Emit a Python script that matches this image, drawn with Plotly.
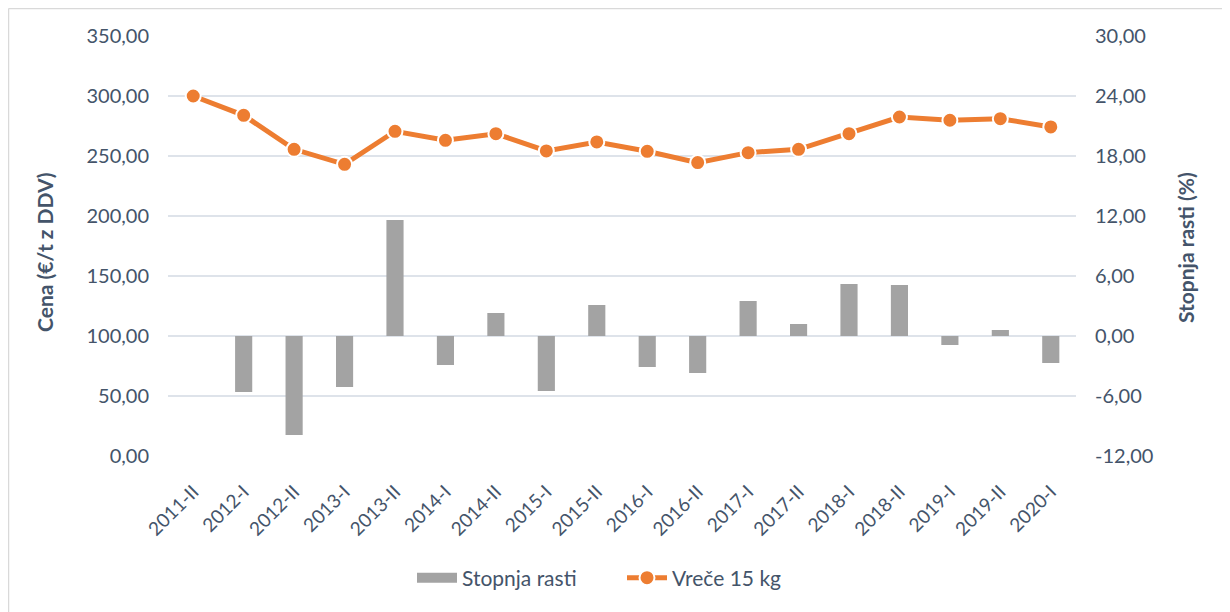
import plotly.graph_objects as go

categories = ["2011-II", "2012-I", "2012-II", "2013-I", "2013-II", "2014-I", "2014-II",
              "2015-I", "2015-II", "2016-I", "2016-II", "2017-I", "2017-II", "2018-I",
              "2018-II", "2019-I", "2019-II", "2020-I"]
price = [300.0, 283.9, 255.6, 243.1, 270.6, 263.1, 268.6, 254.2, 261.7, 253.9,
         244.5, 252.8, 255.6, 268.6, 282.5, 279.8, 281.1, 274.2]
growth = [None, -5.6, -9.9, -5.1, 11.6, -2.9, 2.3, -5.5, 3.1, -3.1,
          -3.7, 3.5, 1.2, 5.2, 5.1, -0.9, 0.6, -2.7]
right_tickvals = [-12, -6, 0, 6, 12, 18, 24, 30]
right_ticktext = ["-12,00", "-6,00", "0,00", "6,00", "12,00", "18,00", "24,00", "30,00"]

txt = "#44546A"
font = "Lato"
W, H = 1222, 604
ML, MR, MT, MB = 160, 154, 28, 156
PW = W - ML - MR
PH = H - MT - MB


def px(xf):
    return (xf - ML) / PW


def py(yf):
    return (H - MB - yf) / PH


fig = go.Figure()
fig.add_trace(go.Bar(
    x=categories, y=growth, name="Stopnja rasti", yaxis="y2",
    marker=dict(color="#a3a3a3", line=dict(width=0)), width=0.34, showlegend=False,
))
# legend-only entry giving a wide grey swatch like the reference
fig.add_trace(go.Scatter(
    x=[None], y=[None], name="Stopnja rasti", mode="lines",
    line=dict(color="#a3a3a3", width=14), yaxis="y2",
))
fig.add_trace(go.Scatter(
    x=categories, y=price, name="Vreče 15 kg", mode="lines+markers",
    line=dict(color="#ED7D31", width=5),
    marker=dict(size=15, color="#ED7D31", line=dict(color="white", width=2)),
))

fig.update_layout(
    width=W, height=H,
    margin=dict(l=ML, r=MR, t=MT, b=MB),
    paper_bgcolor="white", plot_bgcolor="white",
    separators=",.",
    font=dict(family=font, size=20, color=txt),
    showlegend=True,
    legend=dict(orientation="h", x=0.5, xanchor="center", y=py(570), yanchor="middle",
                font=dict(size=21, color=txt), traceorder="normal", itemwidth=40,
                entrywidth=155, entrywidthmode="pixels"),
    xaxis=dict(type="category", tickangle=-45, tickfont=dict(size=19, color=txt),
               showgrid=False, showline=False, ticks="", range=[-0.5, 17.5],
               ticklabelstandoff=20),
    yaxis=dict(range=[0, 350], dtick=50, tickformat=".2f", showgrid=True,
               gridcolor="#DEE3EA", gridwidth=1.5, zeroline=False, showline=False,
               ticks="", tickfont=dict(size=20, color=txt), ticklabelstandoff=18),
    yaxis2=dict(range=[-12, 30], tickvals=right_tickvals, ticktext=right_ticktext,
                overlaying="y", side="right",
                showgrid=False, zeroline=False, showline=False, ticks="",
                tickfont=dict(size=20, color=txt), ticklabelstandoff=18),
    bargap=0.66,
    annotations=[
        dict(text="<b>Cena (€/t z DDV)</b>", xref="paper", yref="paper",
             x=px(37), y=py(244), textangle=-90, showarrow=False,
             font=dict(size=21, color=txt), xanchor="center", yanchor="middle"),
        dict(text="<b>Stopnja rasti (%)</b>", xref="paper", yref="paper",
             x=px(1177), y=py(240), textangle=-90, showarrow=False,
             font=dict(size=21, color=txt), xanchor="center", yanchor="middle"),
    ],
)

# outer frame (left and top edges visible)
fig.add_shape(type="line", xref="paper", yref="paper",
              x0=px(0.5), x1=px(0.5), y0=py(0.5), y1=py(H),
              line=dict(color="#D9D9D9", width=1.5))
fig.add_shape(type="line", xref="paper", yref="paper",
              x0=px(0.5), x1=px(W), y0=py(0.5), y1=py(0.5),
              line=dict(color="#D9D9D9", width=1.5))

fig.write_html("out.html")
